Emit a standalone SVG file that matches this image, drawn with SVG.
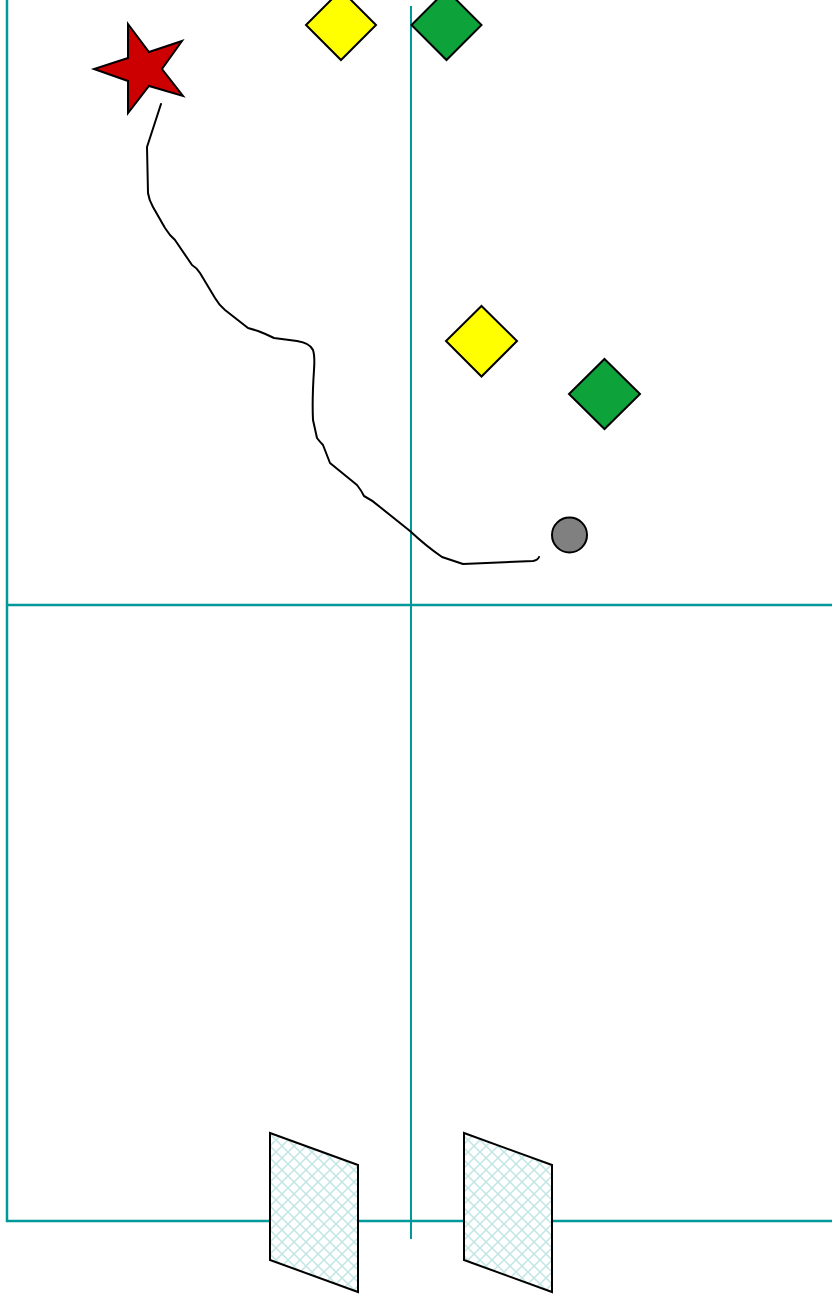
<svg xmlns="http://www.w3.org/2000/svg" width="832" height="1301" viewBox="0 0 832 1301">
<style>
.axis{stroke:#009999;fill:none}
.shape{stroke:#000;stroke-width:2;stroke-linejoin:miter}
.path{stroke:#000;stroke-width:2;fill:none;stroke-linejoin:round;stroke-linecap:round}
</style>
<defs>
<pattern id="hatch" patternUnits="userSpaceOnUse" width="12" height="12">
<rect width="12" height="12" fill="#fff"/>
<path d="M0,0 L12,12 M12,0 L0,12" stroke="#c2e6e6" stroke-width="1.5"/>
</pattern>
</defs>
<rect width="832" height="1301" fill="#fff"/>
<g id="connectors">
<path class="axis" stroke-width="2.5" d="M7,0 V1221 H832"/>
<path class="axis" stroke-width="2.5" d="M7,605 H832"/>
<path class="axis" stroke-width="2" d="M411,6 V1239"/>
<path class="path" d="M161,104 L147,147 L148,193 Q149,200 153,207 L165,228 L170,235 L175,240 L192,265 Q197,268 200,273 L215,298 Q219,305 225,310 L248,328 L258,331 Q266,334 274,338 L297,341 Q310,343 313,350 Q315,356 314,370 Q312,400 313,420 L317,438 Q320,442 323,445 L330,463 L357,485 Q361,490 364,496 Q372,500 380,507 L410,531 Q426,546 442,557 L463,564 L533,561 Q538,560 539,557"/>
</g>
<g id="star">
<polygon class="shape" fill="#cc0000" points="128,24 149,52 182,41 162,69 183,96 149,86 128,113 128,81 94,69 128,58"/>
</g>
<g id="yellow1"><polygon class="shape" fill="#ffff00" points="341,-10 376,25 341,60 306,25"/></g>
<g id="green1"><polygon class="shape" fill="#0ea33a" points="446.5,-10 481.5,25 446.5,60 411.5,25"/></g>
<g id="yellow2"><polygon class="shape" fill="#ffff00" points="481.5,306 517,341 481.5,376.5 446,341"/></g>
<g id="green2"><polygon class="shape" fill="#0ea33a" points="604.5,359 640,394 604.5,429 569,394"/></g>
<g id="circle"><circle class="shape" cx="569.5" cy="535" r="17.5" fill="#808080"/></g>
<g id="panel1"><polygon class="shape" fill="url(#hatch)" points="270,1133 358,1165 358,1292 270,1260"/></g>
<g id="panel2"><polygon class="shape" fill="url(#hatch)" points="464,1133 552,1165 552,1292 464,1260"/></g>
</svg>
